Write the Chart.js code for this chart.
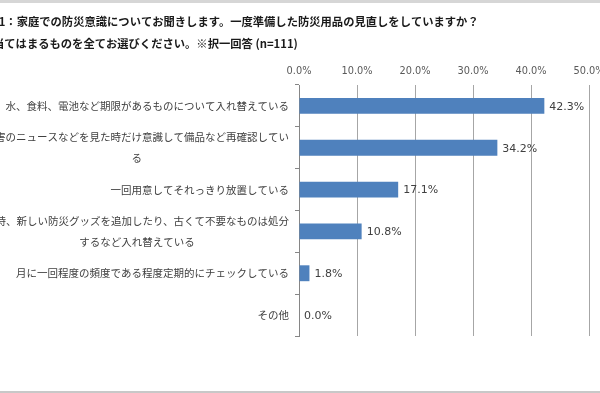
<!DOCTYPE html>
<html>
<head>
<meta charset="utf-8">
<script src="https://cdn.jsdelivr.net/npm/chart.js@4/dist/chart.umd.min.js"></script>
<style>
  body { margin: 0; background: #fff; }
  #wrap { position: relative; width: 600px; height: 393px; overflow: hidden; background: #fff; }
  #wrap canvas { position: absolute; left: 0; top: 0; }
  /* grey strips of the screenshot frame */
  #wrap .edge-top { position: absolute; left: 0; top: 0; width: 600px; height: 3px; background: #d6d6d6; }
  #wrap .edge-bottom { position: absolute; left: 0; bottom: 0; width: 600px; height: 2px; background: #c8c8c8; }
</style>
</head>
<body>
<div id="wrap">
  <canvas id="chart1" width="600" height="393"></canvas>
  <div class="edge-top"></div>
  <div class="edge-bottom"></div>
</div>
<script>
// question text (left part is cut off in the original screenshot)
const titleLines = [
  "Q1：家庭での防災意識についてお聞きします。一度準備した防災用品の見直しをしていますか？",
  "当てはまるものを全てお選びください。※択一回答 (n=111)"
];

const categories = [
  "水、食料、電池など期限があるものについて入れ替えている",
  ["災害のニュースなどを見た時だけ意識して備品など再確認してい", "る"],
  "一回用意してそれっきり放置している",
  ["随時、新しい防災グッズを追加したり、古くて不要なものは処分", "するなど入れ替えている"],
  "月に一回程度の頻度である程度定期的にチェックしている",
  "その他"
];

const percentValues = [42.3, 34.2, 17.1, 10.8, 1.8, 0.0];

const xTicks = [0, 10, 20, 30, 40, 50];

const jpFont = '"Noto Sans CJK JP", "Noto Sans", sans-serif';

// title text drawn at the top left, partly outside the canvas like the original
const questionTitle = {
  id: "questionTitle",
  afterDraw(chart) {
    const ctx = chart.ctx;
    ctx.save();
    ctx.font = "bold 11.3px " + jpFont;
    ctx.fillStyle = "#1a1a1a";
    ctx.textAlign = "left";
    ctx.textBaseline = "middle";
    ctx.fillText(titleLines[0], -10, 22);
    ctx.fillText(titleLines[1], -7, 44);
    ctx.restore();
  }
};

// category labels: single lines right aligned, wrapped ones centred (Excel style)
const categoryLabels = {
  id: "categoryLabels",
  afterDraw(chart) {
    const y = chart.scales.y;
    const ctx = chart.ctx;
    const right = y.right - 10;
    ctx.save();
    ctx.font = "10.5px " + jpFont;
    ctx.fillStyle = "#404040";
    ctx.textBaseline = "middle";
    categories.forEach((lab, i) => {
      const lines = [].concat(lab);
      const w = Math.max(...lines.map(l => ctx.measureText(l).width));
      const cy = y.getPixelForTick(i);
      lines.forEach((l, j) => {
        const ly = cy + (j - (lines.length - 1) / 2) * 21;
        if (lines.length > 1) {
          ctx.textAlign = "center";
          ctx.fillText(l, right - w / 2, ly);
        } else {
          ctx.textAlign = "right";
          ctx.fillText(l, right, ly);
        }
      });
    });
    ctx.restore();
  }
};

// value labels at the end of each bar
const barValues = {
  id: "barValues",
  afterDatasetsDraw(chart) {
    const ctx = chart.ctx;
    const meta = chart.getDatasetMeta(0);
    ctx.save();
    ctx.font = '11px "DejaVu Sans", sans-serif';
    ctx.fillStyle = "#404040";
    ctx.textAlign = "left";
    ctx.textBaseline = "middle";
    meta.data.forEach((bar, i) => {
      ctx.fillText(percentValues[i].toFixed(1) + "%", bar.x + 5, bar.y + 1);
    });
    ctx.restore();
  }
};

const ctx = document.getElementById("chart1").getContext("2d");
const myChart = new Chart(ctx, {
  type: "bar",
  data: {
    labels: categories,
    datasets: [
      {
        data: percentValues,
        backgroundColor: "#4f81bd",
        borderWidth: 0,
        categoryPercentage: 1,
        barPercentage: 0.38
      }
    ]
  },
  options: {
    indexAxis: "y",
    responsive: false,
    animation: false,
    devicePixelRatio: 1,
    layout: { padding: { left: 0, right: 11, top: 65, bottom: 57 } },
    plugins: {
      legend: { display: false },
      tooltip: { enabled: false }
    },
    scales: {
      x: {
        position: "top",
        min: 0,
        max: 50,
        afterBuildTicks: (scale) => {
          scale.ticks = xTicks.map(v => ({ value: v }));
        },
        afterFit: (scale) => {
          scale.height = 20;
          scale.paddingLeft = 0;
          scale.paddingRight = 0;
        },
        border: { display: false },
        grid: { color: "#a6a6a6", lineWidth: 1, drawTicks: false },
        ticks: {
          padding: 8,
          color: "#595959",
          font: { family: "DejaVu Sans", size: 9.8 },
          callback: (v) => v.toFixed(1) + "%"
        }
      },
      y: {
        afterFit: (scale) => {
          scale.width = 299;
          scale.paddingTop = 0;
          scale.paddingBottom = 0;
        },
        border: { display: true, color: "#868686", width: 1 },
        grid: { display: true, drawOnChartArea: false, drawTicks: true, tickLength: 4, color: "#868686", offset: true },
        ticks: { color: "rgba(0,0,0,0)", padding: 6, font: { size: 10 } }
      }
    }
  },
  plugins: [questionTitle, categoryLabels, barValues]
});
</script>
</body>
</html>
